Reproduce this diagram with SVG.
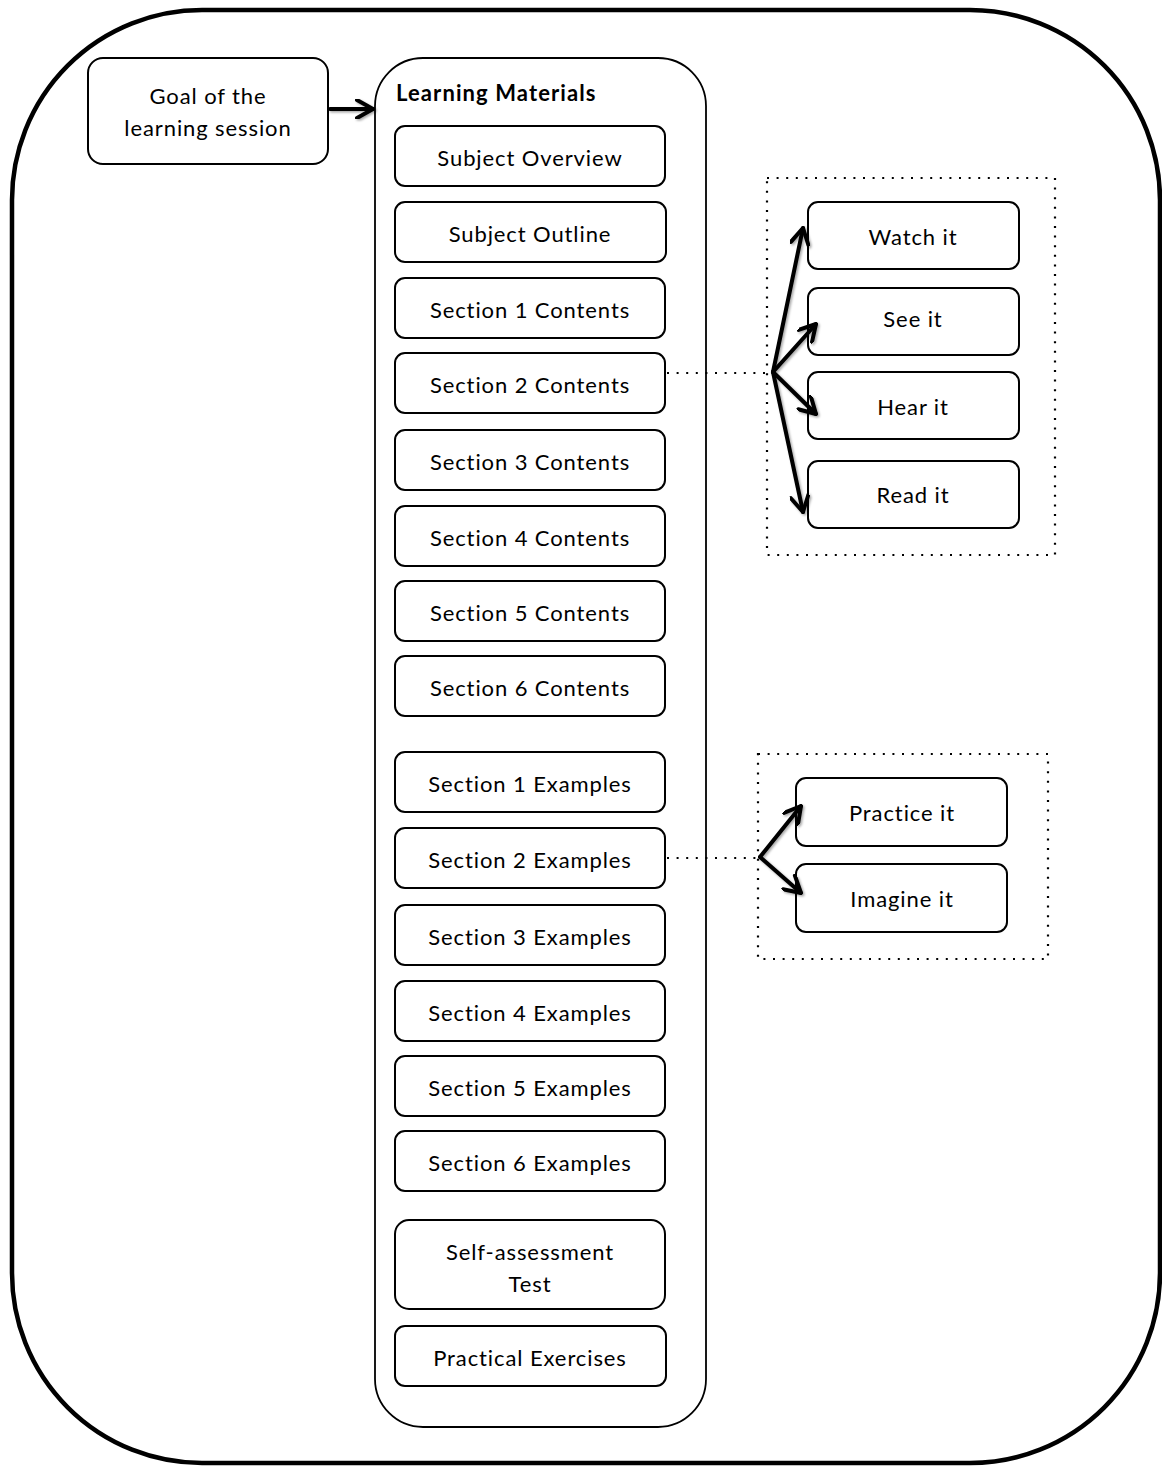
<svg xmlns="http://www.w3.org/2000/svg" width="1162" height="1466" viewBox="0 0 1162 1466">
  <defs>
    <style>
      .frame { fill: none; stroke: #000; stroke-width: 4.5; }
      .panel { fill: #fff; stroke: #000; stroke-width: 1.8; }
      .box { fill: #fff; stroke: #000; stroke-width: 2; }
      .group { fill: none; stroke: #000; stroke-width: 2.2; stroke-dasharray: 2 7.6; }
      .link { fill: none; stroke: #000; stroke-width: 2; stroke-dasharray: 2 7.6; }
      .arrow { fill: none; stroke: #000; stroke-width: 4; stroke-linecap: round; }
      text { font-family: Lato, "Open Sans", "Liberation Sans", sans-serif; font-size: 22px; letter-spacing: 0.9px; fill: #000; text-anchor: middle; }
      .title { font-weight: bold; text-anchor: start; letter-spacing: 1.1px; }
    </style>
    <marker id="chev" viewBox="0 0 20 20" refX="18" refY="10" markerWidth="20" markerHeight="20" markerUnits="userSpaceOnUse" orient="auto">
      <path d="M2,1 L18,10 L2,19" fill="none" stroke="#000" stroke-width="4" stroke-linecap="round" stroke-linejoin="round"/>
    </marker>
    <filter id="soft" x="-20%" y="-20%" width="140%" height="140%">
      <feDropShadow dx="1.5" dy="1.5" stdDeviation="1.2" flood-color="#000" flood-opacity="0.35"/>
    </filter>
  </defs>

  <!-- outer frame -->
  <rect class="frame" x="12" y="10" width="1148" height="1453" rx="190" ry="190"/>

  <!-- goal -->
  <g id="goal">
    <rect class="box" x="88" y="58" width="240" height="106" rx="15"/>
    <text x="208" y="104">Goal of the</text>
    <text x="208" y="136">learning session</text>
  </g>

  <!-- learning materials container -->
  <g id="learning-materials">
    <rect class="panel" x="375" y="58" width="331" height="1369" rx="48"/>
    <text class="title" x="396" y="101">Learning Materials</text>
  </g>

  <g id="subject-overview"><rect class="box" x="395" y="126" width="270" height="60" rx="10"/><text x="530" y="166">Subject Overview</text></g>
  <g id="subject-outline"><rect class="box" x="395" y="202" width="271" height="60" rx="10"/><text x="530" y="242">Subject Outline</text></g>
  <g id="section1-contents"><rect class="box" x="395" y="278" width="270" height="60" rx="10"/><text x="530" y="318">Section 1 Contents</text></g>
  <g id="section2-contents"><rect class="box" x="395" y="353" width="270" height="60" rx="10"/><text x="530" y="393">Section 2 Contents</text></g>
  <g id="section3-contents"><rect class="box" x="395" y="430" width="270" height="60" rx="10"/><text x="530" y="470">Section 3 Contents</text></g>
  <g id="section4-contents"><rect class="box" x="395" y="506" width="270" height="60" rx="10"/><text x="530" y="546">Section 4 Contents</text></g>
  <g id="section5-contents"><rect class="box" x="395" y="581" width="270" height="60" rx="10"/><text x="530" y="621">Section 5 Contents</text></g>
  <g id="section6-contents"><rect class="box" x="395" y="656" width="270" height="60" rx="10"/><text x="530" y="696">Section 6 Contents</text></g>

  <g id="section1-examples"><rect class="box" x="395" y="752" width="270" height="60" rx="10"/><text x="530" y="792">Section 1 Examples</text></g>
  <g id="section2-examples"><rect class="box" x="395" y="828" width="270" height="60" rx="10"/><text x="530" y="868">Section 2 Examples</text></g>
  <g id="section3-examples"><rect class="box" x="395" y="905" width="270" height="60" rx="10"/><text x="530" y="945">Section 3 Examples</text></g>
  <g id="section4-examples"><rect class="box" x="395" y="981" width="270" height="60" rx="10"/><text x="530" y="1021">Section 4 Examples</text></g>
  <g id="section5-examples"><rect class="box" x="395" y="1056" width="270" height="60" rx="10"/><text x="530" y="1096">Section 5 Examples</text></g>
  <g id="section6-examples"><rect class="box" x="395" y="1131" width="270" height="60" rx="10"/><text x="530" y="1171">Section 6 Examples</text></g>

  <g id="self-assessment">
    <rect class="box" x="395" y="1220" width="270" height="89" rx="14"/>
    <text x="530" y="1260">Self-assessment</text>
    <text x="530" y="1292">Test</text>
  </g>
  <g id="practical-exercises"><rect class="box" x="395" y="1326" width="271" height="60" rx="10"/><text x="530" y="1366">Practical Exercises</text></g>

  <!-- senses group -->
  <g id="senses-group"><rect class="group" x="767" y="178" width="288" height="377"/></g>
  <g id="watch-it"><rect class="box" x="808" y="202" width="211" height="67" rx="10"/><text x="913" y="245">Watch it</text></g>
  <g id="see-it"><rect class="box" x="808" y="288" width="211" height="67" rx="10"/><text x="913" y="327">See it</text></g>
  <g id="hear-it"><rect class="box" x="808" y="372" width="211" height="67" rx="10"/><text x="913" y="415">Hear it</text></g>
  <g id="read-it"><rect class="box" x="808" y="461" width="211" height="67" rx="10"/><text x="913" y="503">Read it</text></g>

  <!-- activity group -->
  <g id="activity-group"><rect class="group" x="758" y="754" width="290" height="205"/></g>
  <g id="practice-it"><rect class="box" x="796" y="778" width="211" height="68" rx="10"/><text x="902" y="821">Practice it</text></g>
  <g id="imagine-it"><rect class="box" x="796" y="864" width="211" height="68" rx="10"/><text x="902" y="907">Imagine it</text></g>

  <!-- connectors -->
  <g id="connectors">
    <path class="link" d="M667,373 H773"/>
    <path class="link" d="M667,858 H760"/>
    <g filter="url(#soft)">
      <path class="arrow" d="M330,109 H373" marker-end="url(#chev)"/>
      <path class="arrow" d="M773,372 L803,228" marker-end="url(#chev)"/>
      <path class="arrow" d="M773,372 L816,324" marker-end="url(#chev)"/>
      <path class="arrow" d="M773,372 L816,414" marker-end="url(#chev)"/>
      <path class="arrow" d="M773,372 L803,512" marker-end="url(#chev)"/>
      <path class="arrow" d="M760,857 L801,806" marker-end="url(#chev)"/>
      <path class="arrow" d="M760,857 L801,893" marker-end="url(#chev)"/>
    </g>
  </g>
</svg>
